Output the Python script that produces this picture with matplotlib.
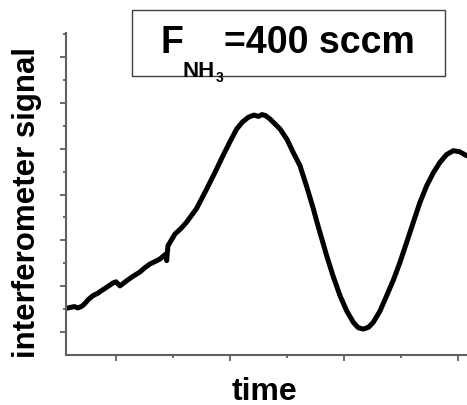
'''Interferometer signal vs time for F_NH3 = 400 sccm'''
import matplotlib
matplotlib.use('Agg')
import matplotlib.pyplot as plt
from matplotlib.patches import Rectangle
from matplotlib.ticker import MultipleLocator, NullFormatter

plt.rcParams['font.family'] = ['Liberation Sans', 'DejaVu Sans']

# values (arbitrary units)
time = [0.135, 0.27, 0.33, 0.40, 0.45, 0.52, 0.596, 0.68, 0.772, 0.86, 0.947, 1.00,
        1.07, 1.188, 1.30, 1.421, 1.50, 1.596, 1.70, 1.772, 1.86, 1.877, 1.889,
        1.912, 2.035, 2.14, 2.24, 2.416, 2.591, 2.74, 2.877, 3.0, 3.118, 3.22,
        3.321, 3.42, 3.50, 3.56, 3.62, 3.702, 3.877, 4.0, 4.105, 4.228, 4.346,
        4.46, 4.521, 4.60, 4.696, 4.81, 4.93, 5.05, 5.163, 5.25, 5.339, 5.43,
        5.514, 5.63, 5.749, 5.87, 5.982, 6.10, 6.216, 6.33, 6.451, 6.57, 6.684,
        6.80, 6.918, 7.03, 7.153]
signal = [0.523, 0.56, 0.53, 0.566, 0.62, 0.72, 0.797, 0.85, 0.928, 1.00, 1.073, 1.10,
          1.01, 1.123, 1.22, 1.313, 1.40, 1.487, 1.55, 1.596, 1.69, 1.705, 1.56,
          1.885, 2.14, 2.26, 2.40, 2.70, 3.12, 3.49, 3.845, 4.15, 4.428, 4.58,
          4.681, 4.73, 4.70, 4.74, 4.72, 4.644, 4.428, 4.20, 3.926, 3.627, 3.17,
          2.70, 2.42, 2.08, 1.668, 1.22, 0.797, 0.46, 0.218, 0.10, 0.07, 0.11,
          0.218, 0.46, 0.797, 1.15, 1.524, 1.96, 2.395, 2.82, 3.192, 3.48, 3.701,
          3.87, 3.954, 3.93, 3.845]

fig = plt.figure(figsize=(4.67, 4.06), dpi=100)
ax = fig.add_axes([0.1413, 0.1232, 0.8587, 0.7931])

ax.plot(time, signal, color='black', linewidth=3.6, solid_capstyle='round',
        solid_joinstyle='round')

ax.set_xlim(0.1228, 7.158)
ax.set_ylim(-0.494, 6.517)

# axis styling: only left/bottom, grey, ticks outside without labels
for side in ['top', 'right']:
    ax.spines[side].set_visible(False)
for side in ['left', 'bottom']:
    ax.spines[side].set_color('#606060')
    ax.spines[side].set_linewidth(1.5)

ax.xaxis.set_major_locator(MultipleLocator(2, offset=1))
ax.xaxis.set_minor_locator(MultipleLocator(1))
ax.yaxis.set_major_locator(MultipleLocator(1))
ax.yaxis.set_minor_locator(MultipleLocator(0.5))
ax.xaxis.set_major_formatter(NullFormatter())
ax.yaxis.set_major_formatter(NullFormatter())
ax.tick_params(which='major', direction='out', length=4.3, width=1.3, color='#606060')
ax.tick_params(which='minor', direction='out', length=2.2, width=1.3, color='#606060')

# axis labels
fig.text(27 / 467, 0.5, 'interferometer signal', rotation=90, ha='center',
         va='center', fontsize=22.5, fontweight='bold')
fig.text(265 / 467, 6 / 406, 'time', ha='center', va='baseline',
         fontsize=23, fontweight='bold')

# boxed annotation
fig.patches.append(Rectangle((0.282, 0.811), 0.671, 0.1626, transform=fig.transFigure,
                             facecolor='white', edgecolor='#404040', linewidth=1.0))
fig.text(160.7 / 467, 0.8687, 'F', ha='left', va='baseline', fontsize=27,
         fontweight='bold')
fig.text(182 / 467, 0.8103, 'NH', ha='left', va='baseline', fontsize=16,
         fontweight='bold')
fig.text(215.5 / 467, 0.798, '3', ha='left', va='baseline', fontsize=10,
         fontweight='bold')
fig.text(224 / 467, 0.8687, '=400 sccm', ha='left', va='baseline', fontsize=27,
         fontweight='bold')

fig.savefig('out.png', dpi=100)
